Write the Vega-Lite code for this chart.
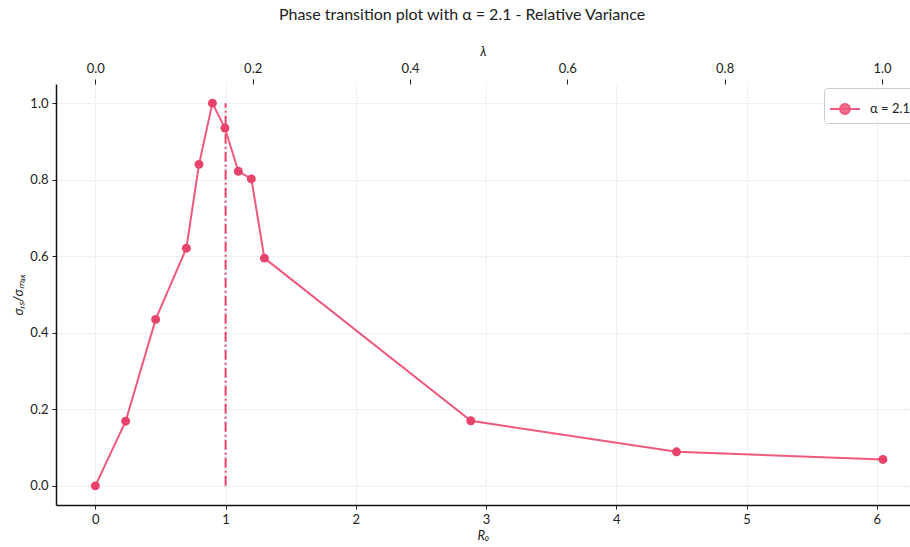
{
  "$schema": "https://vega.github.io/schema/vega-lite/v6.json",
  "width": 854,
  "height": 421,
  "autosize": {"type": "none"},
  "padding": {"left": 56, "top": 84, "right": 0, "bottom": 42},
  "title": {
    "text": "Phase transition plot with α = 2.1 - Relative Variance",
    "font": "Lato",
    "fontSize": 16,
    "fontWeight": "normal",
    "color": "#222222",
    "anchor": "middle",
    "dx": -21,
    "offset": 22
  },
  "config": {
    "font": "Lato",
    "view": {"stroke": null},
    "axis": {
      "labelFont": "Lato",
      "labelFontSize": 13,
      "labelColor": "#222222",
      "titleFont": "Lato",
      "titleFontSize": 13,
      "titleFontWeight": "normal",
      "titleFontStyle": "italic",
      "titleColor": "#222222",
      "domainColor": "#111111",
      "domainWidth": 1.5,
      "tickColor": "#222222",
      "tickSize": 4,
      "tickWidth": 1,
      "gridColor": "#dcdcdc",
      "gridDash": [2, 2],
      "gridWidth": 0.8,
      "labelPadding": 4
    }
  },
  "datasets": {
    "runs": [
      {"R0": 0.0, "lambda": 0.0, "sigma": 0.0, "series": "α = 2.1"},
      {"R0": 0.233, "lambda": 0.0385, "sigma": 0.169, "series": "α = 2.1"},
      {"R0": 0.463, "lambda": 0.0766, "sigma": 0.435, "series": "α = 2.1"},
      {"R0": 0.699, "lambda": 0.1156, "sigma": 0.621, "series": "α = 2.1"},
      {"R0": 0.796, "lambda": 0.1316, "sigma": 0.84, "series": "α = 2.1"},
      {"R0": 0.899, "lambda": 0.1487, "sigma": 1.0, "series": "α = 2.1"},
      {"R0": 0.995, "lambda": 0.1645, "sigma": 0.935, "series": "α = 2.1"},
      {"R0": 1.098, "lambda": 0.1816, "sigma": 0.822, "series": "α = 2.1"},
      {"R0": 1.198, "lambda": 0.1981, "sigma": 0.802, "series": "α = 2.1"},
      {"R0": 1.298, "lambda": 0.2147, "sigma": 0.595, "series": "α = 2.1"},
      {"R0": 2.883, "lambda": 0.4768, "sigma": 0.17, "series": "α = 2.1"},
      {"R0": 4.462, "lambda": 0.7379, "sigma": 0.089, "series": "α = 2.1"},
      {"R0": 6.047, "lambda": 1.0, "sigma": 0.069, "series": "α = 2.1"}
    ],
    "threshold": [{"R0": 1.0, "lo": 0.0, "hi": 1.0}]
  },
  "layer": [
    {
      "layer": [
        {
          "data": {"name": "threshold"},
          "mark": {"type": "rule", "color": "#e8436b", "strokeWidth": 2, "strokeDash": [10, 3, 2, 3]},
          "encoding": {
            "x": {"field": "R0", "type": "quantitative", "scale": {"domain": [-0.302, 6.255], "nice": false, "zero": false}, "title": "R₀"},
            "y": {"field": "lo", "type": "quantitative", "scale": {"domain": [-0.05, 1.05], "nice": false, "zero": false}, "title": "σᵣₛ/σₘₐₓ"},
            "y2": {"field": "hi"}
          }
        },
        {
          "data": {"name": "runs"},
          "mark": {"type": "line", "strokeWidth": 2},
          "encoding": {
            "x": {
              "field": "R0", "type": "quantitative",
              "scale": {"domain": [-0.302, 6.255], "nice": false, "zero": false},
              "title": "R₀",
              "axis": {"orient": "bottom", "values": [0, 1, 2, 3, 4, 5, 6], "format": "d", "titlePadding": 3}
            },
            "y": {
              "field": "sigma", "type": "quantitative",
              "scale": {"domain": [-0.05, 1.05], "nice": false, "zero": false},
              "title": "σᵣₛ/σₘₐₓ",
              "axis": {"values": [0, 0.2, 0.4, 0.6, 0.8, 1.0], "format": ".1f", "titlePadding": 4}
            },
            "color": {
              "field": "series", "type": "nominal",
              "scale": {"range": ["#ef5a7c"]},
              "legend": {
                "title": null,
                "orient": "none",
                "legendX": 768,
                "legendY": 4,
                "padding": 5,
                "strokeColor": "#cccccc",
                "cornerRadius": 3,
                "fillColor": "rgba(255,255,255,0.85)",
                "symbolType": "M-1,0L1,0M-0.33,0A0.33,0.33,0,1,1,0.33,0A0.33,0.33,0,1,1,-0.33,0",
                "symbolSize": 900,
                "symbolStrokeWidth": 2,
                "symbolFillColor": "#f1708f",
                "symbolStrokeColor": "#f1708f",
                "labelFont": "Lato",
                "labelFontSize": 13,
                "labelColor": "#222222",
                "labelOffset": 9
              }
            }
          }
        },
        {
          "data": {"name": "runs"},
          "mark": {"type": "point", "filled": true, "size": 80, "opacity": 1, "color": "#e8436b"},
          "encoding": {
            "x": {"field": "R0", "type": "quantitative", "scale": {"domain": [-0.302, 6.255], "nice": false, "zero": false}, "title": "R₀"},
            "y": {"field": "sigma", "type": "quantitative", "scale": {"domain": [-0.05, 1.05], "nice": false, "zero": false}, "title": "σᵣₛ/σₘₐₓ"}
          }
        }
      ]
    },
    {
      "data": {"name": "runs"},
      "mark": {"type": "point", "opacity": 0},
      "encoding": {
        "x": {
          "field": "lambda", "type": "quantitative",
          "scale": {"domain": [-0.05, 1.0356], "nice": false, "zero": false},
          "title": "λ",
          "axis": {"orient": "top", "values": [0, 0.2, 0.4, 0.6, 0.8, 1.0], "format": ".1f", "domain": false, "tickSize": 5, "titlePadding": 4}
        },
        "y": {"field": "sigma", "type": "quantitative", "scale": {"domain": [-0.05, 1.05], "nice": false, "zero": false}, "title": "σᵣₛ/σₘₐₓ"}
      }
    }
  ],
  "resolve": {"scale": {"x": "independent"}, "axis": {"x": "independent"}}
}
